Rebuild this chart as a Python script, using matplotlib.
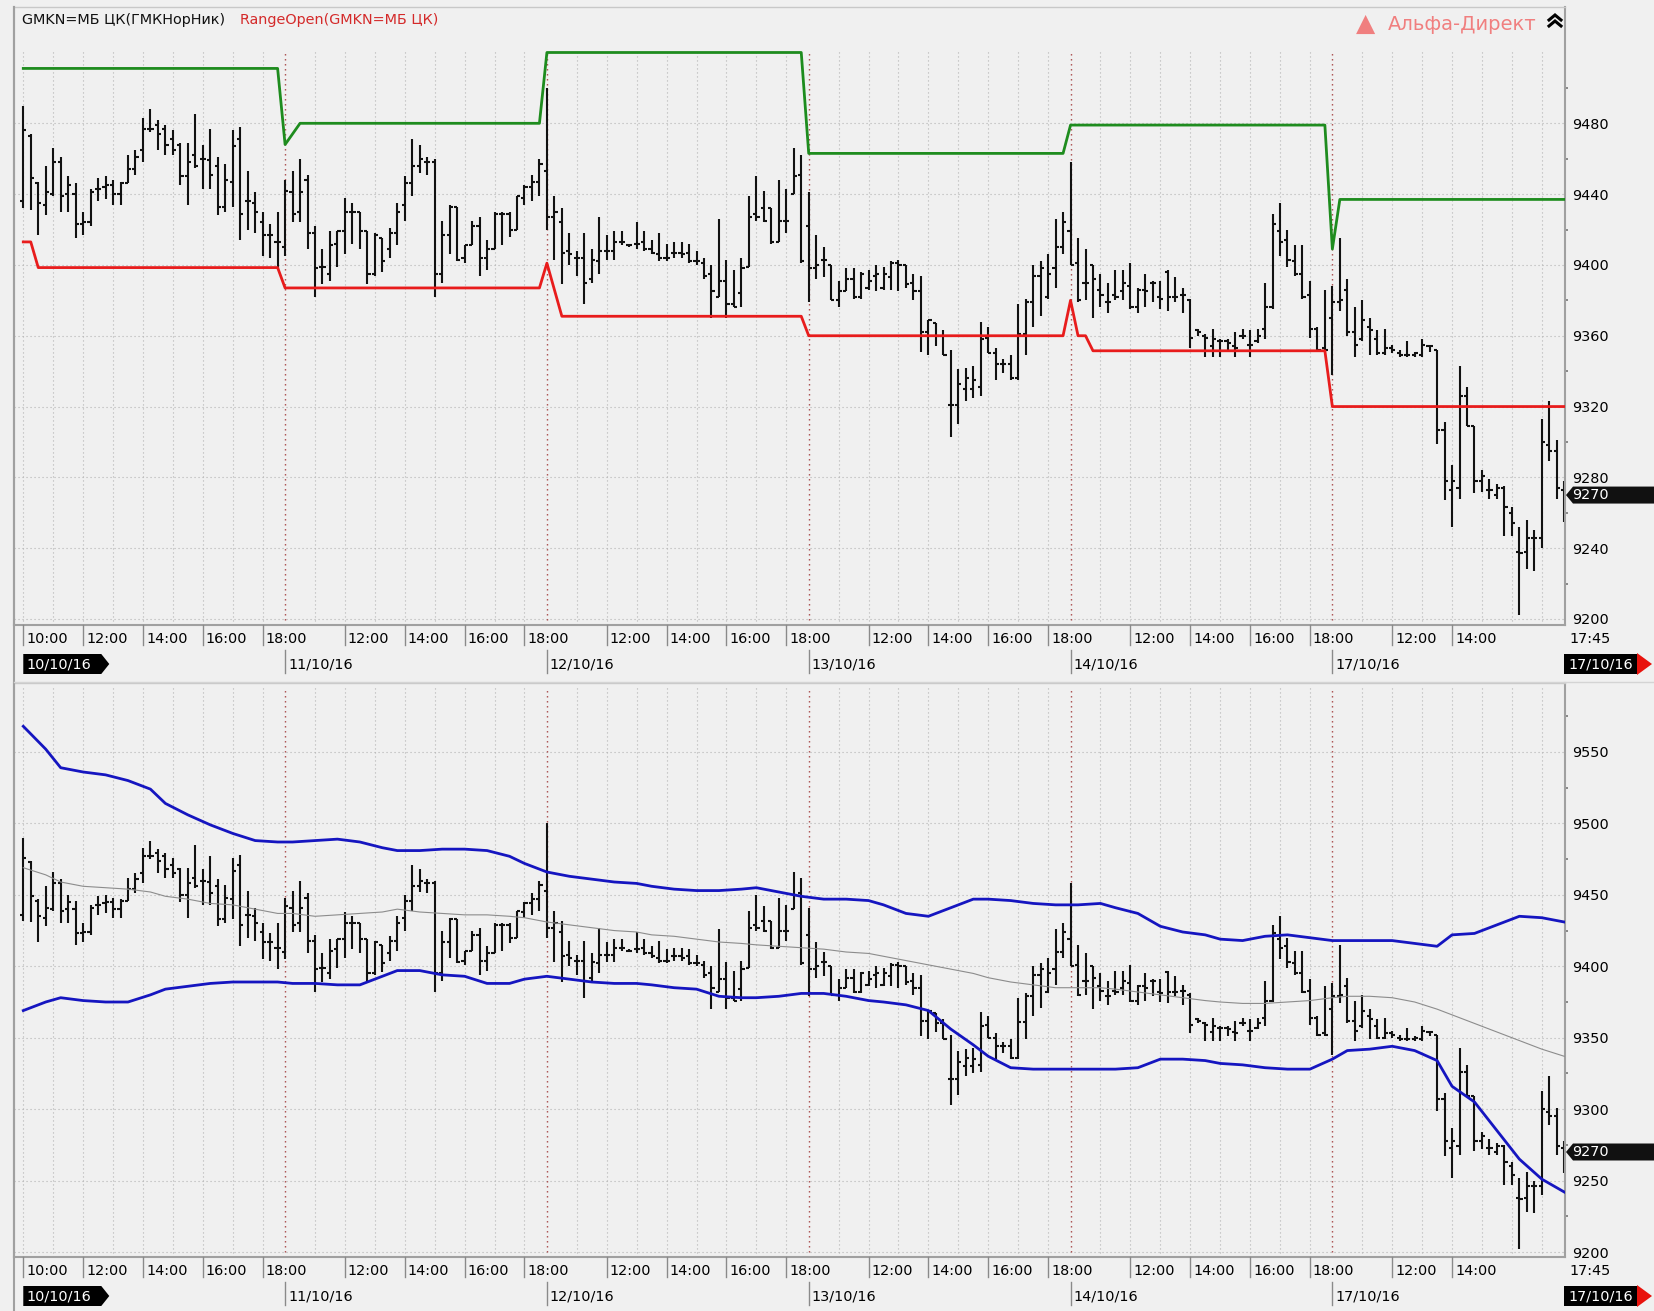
import matplotlib
matplotlib.use("Agg")
import matplotlib.pyplot as plt
import matplotlib.transforms as mtransforms
from matplotlib.collections import LineCollection
from matplotlib.lines import Line2D
from matplotlib.patches import Polygon
import numpy as np

plt.rcParams['font.family'] = ['DejaVu Sans']

W, H = 1654, 1311
BG = '#f0f0f0'

# ---- data ----
day_labels = ['10/10/16', '11/10/16', '12/10/16', '13/10/16', '14/10/16', '17/10/16']
day_bars = [35, 35, 35, 35, 35, 32]   # 15-min bars per session
day_hours = [
    ['10:00', '12:00', '14:00', '16:00', '18:00'],
    ['12:00', '14:00', '16:00', '18:00'],
    ['12:00', '14:00', '16:00', '18:00'],
    ['12:00', '14:00', '16:00', '18:00'],
    ['12:00', '14:00', '16:00', '18:00'],
    ['12:00', '14:00'],
]
last_time = '17:45'
last_price = 9270
title_main = 'GMKN=МБ ЦК(ГМКНорНик)'
title_ind = 'RangeOpen(GMKN=МБ ЦК)'

opens = [
    9436, 9473, 9446, 9434, 9440, 9458, 9440, 9440, 9423, 9424, 9443, 9444, 9445, 9440, 9446, 9454, 9465, 9477,
    9479, 9477, 9471, 9468, 9450, 9462, 9460, 9459, 9456, 9433, 9447, 9471, 9436, 9435, 9424, 9417, 9413,
    9410, 9441, 9430, 9448, 9418, 9399, 9395, 9412, 9419, 9430, 9430, 9419, 9395, 9415, 9409, 9418, 9434, 9446,
    9456, 9458, 9458, 9395, 9417, 9433, 9404, 9411, 9422, 9404, 9409, 9429, 9429, 9420, 9438, 9444, 9447,
    9453, 9427, 9424, 9408, 9404, 9404, 9392, 9402, 9408, 9408, 9413, 9411, 9412, 9413, 9409, 9406, 9404, 9407,
    9407, 9407, 9402, 9401, 9395, 9382, 9391, 9378, 9384, 9399, 9429, 9432, 9432, 9413, 9425, 9440, 9451,
    9422, 9398, 9403, 9400, 9380, 9385, 9392, 9382, 9387, 9394, 9387, 9393, 9401, 9400, 9390, 9385, 9362, 9367,
    9360, 9321, 9321, 9330, 9330, 9331, 9359, 9350, 9344, 9344, 9336, 9361, 9379, 9394, 9382, 9398, 9410,
    9419, 9401, 9390, 9400, 9386, 9379, 9383, 9385, 9388, 9376, 9386, 9390, 9382, 9396, 9382, 9383, 9380, 9363,
    9360, 9354, 9357, 9357, 9354, 9360, 9355, 9357, 9364, 9376, 9419, 9414, 9402, 9395, 9383, 9364, 9353,
    9370, 9379, 9386, 9362, 9358, 9365, 9358, 9350, 9353, 9350, 9349, 9349, 9349, 9354, 9352, 9307, 9273, 9274,
    9326, 9309, 9278, 9273, 9270, 9274, 9260, 9238, 9238, 9246, 9246, 9298, 9295, 9273,
]
highs = [
    9490, 9474, 9447, 9456, 9466, 9461, 9450, 9446, 9430, 9443, 9449, 9450, 9448, 9447, 9462, 9465, 9483, 9488,
    9482, 9479, 9476, 9469, 9469, 9485, 9468, 9477, 9461, 9457, 9476, 9478, 9453, 9441, 9430, 9423, 9430,
    9448, 9453, 9460, 9451, 9422, 9409, 9419, 9419, 9438, 9435, 9430, 9419, 9418, 9415, 9421, 9435, 9450, 9471,
    9468, 9461, 9460, 9425, 9434, 9433, 9411, 9425, 9427, 9414, 9430, 9430, 9430, 9439, 9445, 9451, 9460,
    9500, 9439, 9432, 9418, 9408, 9418, 9409, 9427, 9417, 9419, 9419, 9412, 9424, 9419, 9414, 9418, 9412, 9413,
    9413, 9412, 9408, 9404, 9400, 9426, 9403, 9397, 9404, 9439, 9450, 9442, 9432, 9448, 9443, 9466, 9462,
    9441, 9417, 9410, 9400, 9391, 9398, 9398, 9396, 9397, 9400, 9399, 9402, 9403, 9400, 9395, 9394, 9369, 9367,
    9363, 9352, 9341, 9342, 9343, 9368, 9365, 9353, 9347, 9349, 9378, 9381, 9400, 9402, 9406, 9426, 9430,
    9458, 9415, 9409, 9400, 9395, 9390, 9397, 9397, 9401, 9387, 9395, 9391, 9391, 9397, 9393, 9387, 9381, 9364,
    9361, 9364, 9358, 9358, 9362, 9364, 9363, 9364, 9390, 9429, 9435, 9420, 9411, 9411, 9391, 9365, 9386,
    9388, 9415, 9392, 9376, 9380, 9370, 9363, 9364, 9355, 9352, 9357, 9351, 9358, 9355, 9352, 9311, 9287, 9343,
    9331, 9309, 9284, 9279, 9276, 9275, 9263, 9252, 9256, 9250, 9313, 9323, 9301, 9278,
]
lows = [
    9432, 9431, 9417, 9428, 9439, 9430, 9430, 9415, 9417, 9422, 9436, 9437, 9434, 9434, 9446, 9451, 9458, 9475,
    9465, 9462, 9462, 9445, 9434, 9455, 9443, 9443, 9428, 9430, 9433, 9414, 9420, 9418, 9405, 9404, 9398,
    9405, 9424, 9424, 9409, 9382, 9389, 9391, 9399, 9406, 9412, 9409, 9389, 9394, 9396, 9404, 9411, 9425, 9439,
    9452, 9451, 9382, 9390, 9406, 9402, 9401, 9411, 9394, 9397, 9409, 9411, 9416, 9420, 9434, 9436, 9439,
    9420, 9403, 9389, 9400, 9394, 9378, 9390, 9395, 9403, 9403, 9411, 9410, 9409, 9408, 9406, 9402, 9402, 9404,
    9404, 9401, 9400, 9392, 9370, 9382, 9370, 9376, 9376, 9399, 9425, 9424, 9412, 9413, 9418, 9440, 9401,
    9379, 9392, 9393, 9380, 9376, 9385, 9381, 9381, 9386, 9385, 9386, 9386, 9385, 9387, 9380, 9351, 9349, 9354,
    9349, 9303, 9310, 9323, 9325, 9326, 9350, 9335, 9339, 9335, 9335, 9349, 9365, 9371, 9381, 9387, 9406,
    9400, 9379, 9380, 9370, 9376, 9373, 9380, 9380, 9375, 9373, 9376, 9379, 9375, 9374, 9379, 9373, 9353, 9360,
    9348, 9348, 9348, 9351, 9348, 9358, 9348, 9356, 9358, 9375, 9405, 9399, 9394, 9381, 9359, 9351, 9351,
    9338, 9374, 9360, 9348, 9357, 9349, 9349, 9349, 9350, 9348, 9348, 9348, 9348, 9351, 9299, 9267, 9252, 9268,
    9309, 9271, 9272, 9268, 9268, 9247, 9247, 9202, 9228, 9227, 9240, 9289, 9268, 9255,
]
closes = [
    9476, 9449, 9435, 9441, 9458, 9439, 9445, 9423, 9424, 9441, 9443, 9445, 9440, 9446, 9454, 9461, 9477, 9477,
    9474, 9468, 9465, 9450, 9458, 9456, 9460, 9451, 9433, 9448, 9467, 9429, 9436, 9430, 9417, 9417, 9413,
    9442, 9429, 9441, 9418, 9398, 9399, 9411, 9419, 9430, 9430, 9419, 9395, 9417, 9402, 9418, 9430, 9446, 9456,
    9460, 9458, 9395, 9417, 9433, 9403, 9411, 9422, 9404, 9409, 9429, 9429, 9420, 9439, 9444, 9447, 9457,
    9427, 9430, 9407, 9406, 9404, 9390, 9403, 9408, 9408, 9413, 9413, 9411, 9412, 9409, 9407, 9404, 9404, 9407,
    9406, 9402, 9402, 9394, 9385, 9391, 9378, 9376, 9398, 9427, 9427, 9425, 9413, 9425, 9425, 9450, 9402,
    9398, 9400, 9403, 9380, 9385, 9392, 9382, 9395, 9391, 9395, 9395, 9401, 9400, 9389, 9385, 9362, 9369, 9360,
    9349, 9321, 9333, 9336, 9335, 9358, 9350, 9344, 9344, 9336, 9361, 9379, 9394, 9398, 9395, 9410, 9424,
    9400, 9380, 9390, 9392, 9383, 9379, 9382, 9390, 9376, 9386, 9385, 9390, 9381, 9382, 9382, 9383, 9359, 9362,
    9359, 9358, 9357, 9356, 9353, 9360, 9355, 9360, 9376, 9423, 9413, 9403, 9395, 9382, 9364, 9352, 9352,
    9379, 9380, 9362, 9355, 9369, 9363, 9350, 9353, 9352, 9349, 9349, 9350, 9355, 9354, 9307, 9278, 9278, 9326,
    9309, 9278, 9281, 9273, 9274, 9263, 9254, 9237, 9246, 9246, 9300, 9295, 9274, 9270,
]

# RangeOpen indicator, one value per bar
range_high = [9511] * 35 + [9468, 9474] + [9480] * 33 + [9520] * 35 + [9463] * 35 + [9479] * 35 + [9409] + [9437] * 31
range_low = ([9413] * 2 + [9398.5] * 33 + [9387] * 35 + [9401, 9386] + [9371] * 33 + [9360] * 35
             + [9380, 9360, 9360] + [9351.5] * 32 + [9320] * 32)

# Bollinger bands (bar index -> value)
band_bar = [0, 3, 5, 8, 11, 14, 17, 19, 22, 25, 28, 31, 34, 36, 39, 42, 45, 48, 50, 53,
            56, 59, 62, 65, 67, 70, 73, 76, 79, 82, 84, 87, 90, 93, 96, 98, 101, 104, 107, 110,
            113, 115, 118, 121, 124, 127, 129, 132, 135, 138, 141, 144, 146, 149, 152, 155, 158, 160, 163, 166,
            169, 172, 175, 177, 180, 183, 186, 189, 191, 194, 197, 200, 203, 206]
band_upper = [9568, 9552, 9539, 9536, 9534, 9530, 9524, 9514, 9506, 9499, 9493, 9488, 9487, 9487, 9488, 9489, 9487, 9483, 9481, 9481,
              9482, 9482, 9481, 9477, 9472, 9466, 9463, 9461, 9459, 9458, 9456, 9454, 9453, 9453, 9454, 9455, 9452, 9449, 9447, 9447,
              9446, 9443, 9437, 9435, 9441, 9447, 9447, 9446, 9444, 9443, 9443, 9444, 9441, 9437, 9428, 9424, 9422, 9419, 9418, 9421,
              9422, 9420, 9418, 9418, 9418, 9418, 9416, 9414, 9422, 9423, 9429, 9435, 9434, 9431]
band_mid = [9469, 9464, 9459, 9456, 9455, 9454, 9452, 9449, 9447, 9444, 9443, 9440, 9437, 9437, 9435, 9436, 9437, 9438, 9440, 9438,
            9437, 9436, 9436, 9435, 9434, 9431, 9429, 9427, 9425, 9424, 9422, 9421, 9419, 9417, 9416, 9415, 9414, 9413, 9412, 9410,
            9409, 9407, 9404, 9401, 9398, 9395, 9392, 9389, 9387, 9385, 9385, 9385, 9384, 9382, 9380, 9378, 9376, 9375, 9374, 9374,
            9375, 9376, 9378, 9379, 9379, 9378, 9375, 9370, 9366, 9360, 9354, 9348, 9342, 9337]
band_lower = [9369, 9375, 9378, 9376, 9375, 9375, 9380, 9384, 9386, 9388, 9389, 9389, 9389, 9388, 9388, 9387, 9387, 9393, 9397, 9397,
              9394, 9393, 9388, 9388, 9391, 9393, 9391, 9389, 9388, 9388, 9387, 9385, 9384, 9379, 9378, 9378, 9379, 9381, 9381, 9379,
              9376, 9375, 9373, 9369, 9356, 9345, 9337, 9329, 9328, 9328, 9328, 9328, 9328, 9329, 9335, 9335, 9334, 9332, 9331, 9329,
              9328, 9328, 9335, 9341, 9342, 9344, 9341, 9334, 9316, 9305, 9285, 9265, 9251, 9242]

top_ticks = list(range(9200, 9481, 40))
low_ticks = list(range(9200, 9551, 50))

assert len(opens) == len(highs) == len(lows) == len(closes) == sum(day_bars)
assert len(range_high) == len(range_low) == len(opens)

# ---- figure ----
fig = plt.figure(figsize=(W / 100, H / 100), dpi=100, facecolor=BG)
PX = mtransforms.IdentityTransform()
GRID = '#b4b4b4'
DAYC = '#a64545'
DOTS = (0, (1, 2.6))
FS = 10.4
X0, X1 = 14, 1565


def panel(top, bottom, ylim, ticks, grid_top):
    ax = fig.add_axes([X0 / W, 1 - bottom / H, (X1 - X0) / W, (bottom - top) / H])
    ax.set_facecolor(BG)
    ax.set_xlim(-1.24, 206.1)
    ax.set_ylim(*ylim)
    for t in ticks:
        ax.axhline(t, color=GRID, lw=0.8, ls=DOTS, zorder=0)
    gfrac = (bottom - grid_top) / (bottom - top)
    start = 0
    for d, n in enumerate(day_bars):
        for k in range(0, n, 4):
            if k == 0 and d > 0:
                ax.axvline(start + k, ymax=gfrac, color=DAYC, lw=1.0, ls=DOTS, zorder=0)
            else:
                ax.axvline(start + k, ymax=gfrac, color=GRID, lw=0.8, ls=DOTS, zorder=0)
        start += n
    # OHLC bars
    x = np.arange(len(opens))
    t = 0.42
    segs = [[(i, lo), (i, hi)] for i, lo, hi in zip(x, lows, highs)]
    segs += [[(i - t, o), (i, o)] for i, o in zip(x, opens)]
    segs += [[(i, c), (i + t, c)] for i, c in zip(x, closes)]
    ax.add_collection(LineCollection(segs, colors='#111111', linewidths=1.5, capstyle='butt', zorder=2))
    # axis cosmetics
    step = ticks[1] - ticks[0]
    ax.yaxis.tick_right()
    ax.set_yticks(ticks)
    ax.set_yticks([v + step / 2 for v in ticks], minor=True)
    ax.tick_params(axis='y', which='major', length=0, pad=5, labelsize=FS)
    ax.tick_params(axis='y', which='minor', length=2, width=1.2, color='#777777', labelleft=False, labelright=False)
    ax.set_xticks([])
    for s in ['left', 'right', 'bottom']:
        ax.spines[s].set_color('#a0a0a0')
        ax.spines[s].set_linewidth(1.5)
    ax.spines['top'].set_color('#c8c8c8')
    ax.spines['top'].set_linewidth(1.0)
    return ax


def time_axis(ax, y_axis):
    tr = mtransforms.blended_transform_factory(ax.transData, PX)
    tr_txt = mtransforms.offset_copy(tr, x=3, y=0, units='dots')
    start = 0
    for d, n in enumerate(day_bars):
        for hl in day_hours[d]:
            i = start + (int(hl[:2]) - 10) * 4
            fig.add_artist(Line2D([i, i], [H - y_axis, H - y_axis - 20], transform=tr, color='#8a8a8a', lw=1.0))
            fig.text(i, H - y_axis - 14, hl, transform=tr_txt, fontsize=FS, va='center', ha='left')
        if d > 0:
            fig.add_artist(Line2D([start, start], [H - y_axis - 25, H - y_axis - 48], transform=tr, color='#8a8a8a', lw=1.0))
            fig.text(start, H - y_axis - 39, day_labels[d], transform=tr_txt, fontsize=FS, va='center', ha='left')
        start += n
    # start-of-range tag
    yc = H - y_axis - 39
    x_a = ax.transData.transform((0, 0))[0]
    fig.add_artist(Polygon([[x_a, yc + 10], [x_a + 78, yc + 10], [x_a + 86, yc], [x_a + 78, yc - 10], [x_a, yc - 10]],
                           closed=True, transform=PX, facecolor='black', edgecolor='none'))
    fig.text(x_a + 3, yc, day_labels[0], transform=PX, fontsize=FS, color='white', va='center', ha='left')
    # end-of-range tag
    fig.text(X1 + 4, H - y_axis - 14, last_time, transform=PX, fontsize=FS, va='center', ha='left')
    fig.add_artist(Polygon([[X1 - 1, yc + 10], [X1 + 72, yc + 10], [X1 + 72, yc - 10], [X1 - 1, yc - 10]],
                           closed=True, transform=PX, facecolor='black', edgecolor='none'))
    fig.add_artist(Polygon([[X1 + 72, yc + 11], [X1 + 87, yc], [X1 + 72, yc - 11]],
                           closed=True, transform=PX, facecolor='#e8120c', edgecolor='none'))
    fig.text(X1 + 3, yc, day_labels[-1], transform=PX, fontsize=FS, color='white', va='center', ha='left')


def price_tag(ax):
    y = ax.transData.transform((0, last_price))[1]
    fig.add_artist(Polygon([[X1 + 1, y], [X1 + 8, y + 8.5], [W, y + 8.5], [W, y - 8.5], [X1 + 8, y - 8.5]],
                           closed=True, transform=PX, facecolor='#111111', edgecolor='none', zorder=5))
    fig.text(X1 + 7, y, str(last_price), transform=PX, fontsize=FS, color='white', va='center', ha='left', zorder=6)


# top panel: price + RangeOpen
top_ax = panel(7, 625, (9196.6, 9545.7), top_ticks, 50)
xb = np.arange(len(opens))
top_ax.plot(xb, range_high, color='#1e8c1e', lw=2.0, solid_joinstyle='round', zorder=3)
top_ax.plot(xb, range_low, color='#e81c1c', lw=2.0, solid_joinstyle='round', zorder=3)
time_axis(top_ax, 625)
price_tag(top_ax)

# lower panel: price + Bollinger bands
low_ax = panel(683, 1257, (9196.5, 9598.3), low_ticks, 687)
low_ax.plot(band_bar, band_mid, color='#8c8c8c', lw=0.8, zorder=3)
low_ax.plot(band_bar, band_upper, color='#1515c0', lw=2.0, solid_joinstyle='round', zorder=3)
low_ax.plot(band_bar, band_lower, color='#1515c0', lw=2.0, solid_joinstyle='round', zorder=3)
time_axis(low_ax, 1257)
price_tag(low_ax)

# frame lines
fig.add_artist(Line2D([X0, X0], [0, H - 7], transform=PX, color='#a0a0a0', lw=1.5))
fig.add_artist(Line2D([X0, W], [H - 682, H - 682], transform=PX, color='#d4d4d4', lw=1.0))

# header texts
fig.text(22, H - 20, title_main, transform=PX, fontsize=FS, va='center', ha='left', color='#111111')
fig.text(240, H - 20, title_ind, transform=PX, fontsize=FS, va='center', ha='left', color='#d42a2a')
fig.text(1356, H - 24, '▲', transform=PX, fontsize=18, va='center', ha='left', color='#f07f7f')
fig.text(1388, H - 24, 'Альфа-Директ', transform=PX, fontsize=14, va='center', ha='left', color='#f07f7f')
# double chevron icon
for dy in (0, 6):
    fig.add_artist(Line2D([1549, 1555, 1561], [H - 25 - dy + 5, H - 20 - dy + 5 + 0, H - 25 - dy + 5],
                          transform=PX, color='black', lw=2.2, solid_joinstyle='miter'))

fig.savefig('out.png', dpi=100, facecolor=BG)
